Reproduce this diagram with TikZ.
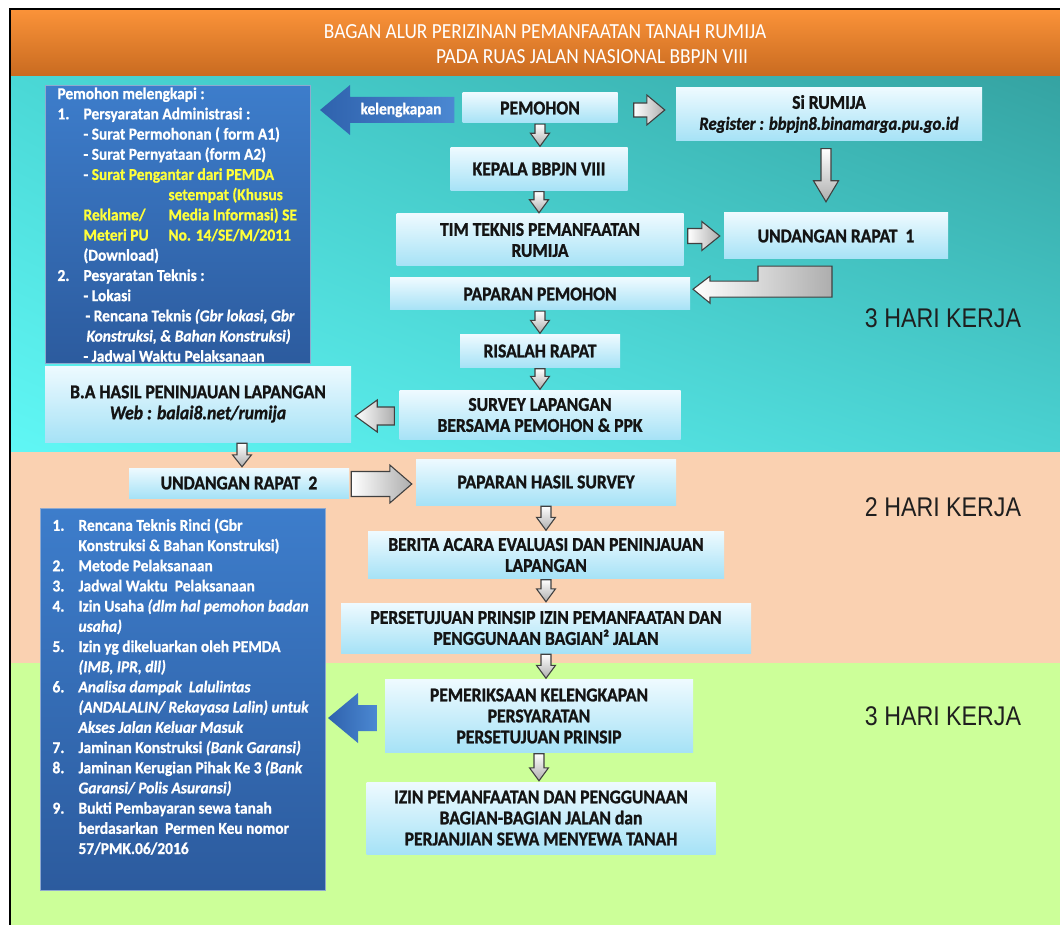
\documentclass[tikz,border=0pt]{standalone}
\usepackage{fontspec}
\setmainfont{Carlito}
\newfontfamily\arialfont[FakeStretch=0.86]{Liberation Sans}
\newfontfamily\boxfont[FakeStretch=0.9,BoldFeatures={FakeBold=1.2},
  BoldItalicFeatures={FakeBold=1.2}]{Carlito}
\newfontfamily\reqfont[FakeStretch=0.93,BoldFeatures={FakeBold=0.8},
  BoldItalicFeatures={FakeBold=0.8}]{Carlito}
\newfontfamily\titlefont[FakeStretch=0.9]{Carlito}
\usepackage{xcolor}
\definecolor{hdTop}{HTML}{FB9339}
\definecolor{hdBot}{HTML}{C86A20}
\definecolor{bgTealUL}{HTML}{4AD8D6}
\definecolor{bgTealUR}{HTML}{35A3A2}
\definecolor{bgTealLL}{HTML}{60F7F5}
\definecolor{bgTealLR}{HTML}{4AD2D2}
\definecolor{bgPeach}{HTML}{FAD1B1}
\definecolor{bgLime}{HTML}{CCFF99}
\definecolor{lbTop}{HTML}{EEFAFF}
\definecolor{lbBot}{HTML}{A6E2F6}
\definecolor{dbTop}{HTML}{3D7DCB}
\definecolor{dbBot}{HTML}{2C5B9E}
\definecolor{dbEdge}{HTML}{8FA9CF}
\definecolor{baLeft}{HTML}{2F62AD}
\definecolor{baRight}{HTML}{4B88D2}
\definecolor{reqYellow}{HTML}{FFFF3A}
\usepackage{tikz}
\usetikzlibrary{positioning,calc,shadings}

% block arrows between two points (canvas units)
\newcommand{\dnarrow}[6][garrowv]{%
  \path[#1] let \p1=#2, \p2=#3 in
    ({\x1-#4},{\y1-1pt}) -- ({\x1+#4},{\y1-1pt}) -- ({\x1+#4},{\y2+1pt+#6})
    -- ({\x1+#5},{\y2+1pt+#6}) -- (\x1,{\y2+1pt}) -- ({\x1-#5},{\y2+1pt+#6})
    -- ({\x1-#4},{\y2+1pt+#6}) -- cycle;}
\newcommand{\hzarrow}[6][garrow]{%
  \path[#1] let \p1=#2, \p2=#3, \n1={sign(\x2-\x1)} in
    (\x1,{\y1+#4}) -- ({\x2-\n1*#6},{\y1+#4}) -- ({\x2-\n1*#6},{\y1+#5})
    -- (\x2,\y1) -- ({\x2-\n1*#6},{\y1-#5}) -- ({\x2-\n1*#6},{\y1-#4})
    -- (\x1,{\y1-#4}) -- cycle;}
\newcommand{\reqitem}[2]{\mbox{\makebox[26pt][l]{#1}#2}\\}
\newcommand{\reqcont}[2][26pt]{\mbox{\hspace*{#1}#2}\\}

\begin{document}
\begin{tikzpicture}[x=1pt,y=-1pt,
    lbox/.style={rectangle,top color=lbTop,bottom color=lbBot,inner sep=0pt,
                 align=center,text=black!92,
                 font=\boxfont\fontsize{19.5}{21}\selectfont\bfseries},
    dbox/.style={rectangle,top color=dbTop,bottom color=dbBot,draw=dbEdge,
                 line width=1pt,anchor=north west,inner xsep=12pt,text=white,
                 font=\reqfont\fontsize{16.6}{20.2}\selectfont\bfseries},
    garrow/.style={draw=black!75,line width=1.1pt,left color=white,right color=black!32},
    garrowv/.style={draw=black!75,line width=1.1pt,top color=white,bottom color=black!32},
    barrow/.style={draw=none,left color=baLeft,right color=baRight},
    title/.style={text=white,font=\titlefont\fontsize{21.5}{23}\selectfont},
    days/.style={text=black!88,font=\arialfont\fontsize{27}{28}\selectfont},
  ]

  % page and bands
  \useasboundingbox (0,0) rectangle (1060,925);
  \fill[white] (0,0) rectangle (1060,925);
  \shade[top color=hdTop,bottom color=hdBot] (10,9) rectangle (1060,77);
  \shade[upper left=bgTealUL,upper right=bgTealUR,lower left=bgTealLL,
         lower right=bgTealLR] (10,77) rectangle (1060,452);
  \fill[bgPeach] (10,452) rectangle (1060,663);
  \fill[bgLime] (10,663) rectangle (1060,925);
  \draw[black,line width=1.3pt] (10,925) -- (10,9) -- (1060,9);

  % header
  \node[title] (title1) at (545,32) {BAGAN ALUR PERIZINAN PEMANFAATAN TANAH RUMIJA};
  \node[title] (title2) at (592,57) {PADA RUAS JALAN NASIONAL BBPJN VIII};

  % requirements, first stage
  \node[dbox,inner ysep=2pt] (reqadmin) at (45,85) {\parbox[t]{241pt}{%
    \mbox{Pemohon melengkapi :}\\
    \reqitem{1.}{Persyaratan Administrasi :}
    \reqcont{- Surat Permohonan ( form A1)}
    \reqcont{- Surat Pernyataan (form A2)}
    \reqcont{- {\color{reqYellow}Surat Pengantar dari PEMDA}}
    \reqcont[111pt]{\color{reqYellow}setempat (Khusus}
    \reqcont{\color{reqYellow}\makebox[85pt][l]{Reklame/}Media Informasi) SE}
    \reqcont{\color{reqYellow}\makebox[85pt][l]{Meteri PU}No. 14/SE/M/2011}
    \reqcont{(Download)}
    \reqitem{2.}{Pesyaratan Teknis :}
    \reqcont{- Lokasi}
    \reqcont[28pt]{- Rencana Teknis \textit{(Gbr lokasi, Gbr}}
    \reqcont[29pt]{\textit{Konstruksi, \& Bahan Konstruksi)}}
    \mbox{\hspace*{26pt}- Jadwal Waktu Pelaksanaan}}};

  % requirements, approval stage
  \node[dbox,inner ysep=10pt] (reqtech) at (40,508) {\parbox[t][362pt][t]{261pt}{%
    \reqitem{1.}{Rencana Teknis Rinci (Gbr}
    \reqcont{Konstruksi \& Bahan Konstruksi)}
    \reqitem{2.}{Metode Pelaksanaan}
    \reqitem{3.}{Jadwal Waktu\ \ Pelaksanaan}
    \reqitem{4.}{Izin Usaha \textit{(dlm hal pemohon badan}}
    \reqcont{\textit{usaha)}}
    \reqitem{5.}{Izin yg dikeluarkan oleh PEMDA}
    \reqcont{\textit{(IMB, IPR, dll)}}
    \reqitem{6.}{\textit{Analisa dampak\ \ Lalulintas}}
    \reqcont{\textit{(ANDALALIN/ Rekayasa Lalin) untuk}}
    \reqcont{\textit{Akses Jalan Keluar Masuk}}
    \reqitem{7.}{Jaminan Konstruksi \textit{(Bank Garansi)}}
    \reqitem{8.}{Jaminan Kerugian Pihak Ke 3 \textit{(Bank}}
    \reqcont{\textit{Garansi/ Polis Asuransi)}}
    \reqitem{9.}{Bukti Pembayaran sewa tanah}
    \reqcont{berdasarkan\ \ Permen Keu nomor}
    \mbox{\hspace*{26pt}57/PMK.06/2016}}};

  % main flow
  \node[lbox,minimum width=155pt,minimum height=30pt] (pemohon) at (540,108) {PEMOHON};
  \node[lbox,minimum width=306pt,minimum height=53pt] (sirumija) at (829,114)
    {Si RUMIJA\\{\fontsize{18.5}{20}\selectfont\itshape Register : bbpjn8.binamarga.pu.go.id}};
  \node[lbox,minimum width=177pt,minimum height=43pt] (kepala) at (539,169) {KEPALA BBPJN VIII};
  \node[lbox,minimum width=287pt,minimum height=52pt] (timteknis) at (540,240)
    {TIM TEKNIS PEMANFAATAN\\RUMIJA};
  \node[lbox,minimum width=224pt,minimum height=46pt] (undangan1) at (836,236) {UNDANGAN RAPAT\ \ 1};
  \node[lbox,minimum width=300pt,minimum height=32pt] (paparan) at (540,294) {PAPARAN PEMOHON};
  \node[lbox,minimum width=160pt,minimum height=33pt] (risalah) at (540,351) {RISALAH RAPAT};
  \node[lbox,minimum width=281pt,minimum height=49pt] (survey) at (540,415)
    {SURVEY LAPANGAN\\BERSAMA PEMOHON \& PPK};
  \node[lbox,minimum width=306pt,minimum height=76pt] (bahasil) at (198,404)
    {B.A HASIL PENINJAUAN LAPANGAN\\\textit{Web : balai8.net/rumija}};
  \node[lbox,minimum width=220pt,minimum height=30pt] (undangan2) at (239,483) {UNDANGAN RAPAT\ \ 2};
  \node[lbox,minimum width=260pt,minimum height=46pt] (paparanhasil) at (546,482) {PAPARAN HASIL SURVEY};
  \node[lbox,minimum width=356pt,minimum height=47pt] (berita) at (546,555)
    {BERITA ACARA EVALUASI DAN PENINJAUAN\\LAPANGAN};
  \node[lbox,minimum width=410pt,minimum height=50pt] (persetujuan) at (546,628)
    {PERSETUJUAN PRINSIP IZIN PEMANFAATAN DAN\\PENGGUNAAN BAGIAN² JALAN};
  \node[lbox,minimum width=308pt,minimum height=73pt] (pemeriksaan) at (539,716)
    {PEMERIKSAAN KELENGKAPAN\\PERSYARATAN\\PERSETUJUAN PRINSIP};
  \node[lbox,minimum width=349pt,minimum height=72pt] (izin) at (541,818)
    {IZIN PEMANFAATAN DAN PENGGUNAAN\\BAGIAN-BAGIAN\ JALAN dan\\PERJANJIAN SEWA MENYEWA TANAH};

  % working days
  \node[days] (days1) at (943,318) {3 HARI KERJA};
  \node[days] (days2) at (943,507) {2 HARI KERJA};
  \node[days] (days3) at (943,716) {3 HARI KERJA};

  % blue arrows to the requirement lists
  \hzarrow[barrow]{($(pemohon.west)+(-8,2)$)}{($(pemohon.west -| reqadmin.east)+(9,2)$)}{13pt}{25pt}{30pt}
  \node[text=white,font=\reqfont\fontsize{16.6}{18}\selectfont\bfseries] (kelengkapan) at (401,110) {kelengkapan};
  \hzarrow[barrow]{($(pemeriksaan.west)+(-8,2)$)}{($(pemeriksaan.west -| reqtech.east)+(2,2)$)}{13pt}{25pt}{30pt}

  % grey flow arrows
  \dnarrow{(pemohon.south)}{(kepala.north)}{5pt}{9.5pt}{13pt}
  \dnarrow{(kepala.south)}{(timteknis.north)}{5pt}{9.5pt}{13pt}
  \dnarrow{(paparan.south)}{(risalah.north)}{5pt}{9.5pt}{13pt}
  \dnarrow{(risalah.south)}{(survey.north)}{5pt}{9.5pt}{13pt}
  \dnarrow{($(bahasil.south -| undangan2)+(3,0)$)}{(undangan2.north)}{5pt}{9.5pt}{12pt}
  \dnarrow{(paparanhasil.south)}{(berita.north)}{5pt}{9.5pt}{13pt}
  \dnarrow{(berita.south)}{(persetujuan.north)}{5pt}{9.5pt}{13pt}
  \dnarrow{(persetujuan.south)}{(pemeriksaan.north)}{5pt}{9.5pt}{13pt}
  \dnarrow{(pemeriksaan.south)}{(izin.north)}{5pt}{9.5pt}{13pt}
  \dnarrow{($(sirumija.south)+(-3,7)$)}{($(sirumija.south |- undangan1.north)+(0,-10)$)}{5pt}{12.5pt}{21pt}
  \hzarrow{($(pemohon.east)+(16,2)$)}{($(sirumija.west)+(-11,-4)$)}{7pt}{15pt}{18pt}
  \hzarrow{($(timteknis.east)+(4,-4)$)}{($(undangan1.west)+(-4,0)$)}{7.5pt}{14.5pt}{18pt}
  \hzarrow{($(survey.west)+(-5,1)$)}{($(survey.west -| bahasil.east)+(4,1)$)}{9pt}{16pt}{22pt}
  \hzarrow{($(undangan2.east)+(2,1)$)}{($(paparanhasil.west)+(-4,0)$)}{12.5pt}{19pt}{22pt}
  \path[garrow] ($(undangan1.south)+(-78,7)$) -- ++(74,0) -- ++(0,31) -- ++(-122,0)
    -- ++(0,6) -- ++(-17,-14) -- ++(17,-13) -- ++(0,5) -- ++(48,0) -- cycle;

\end{tikzpicture}
\end{document}
